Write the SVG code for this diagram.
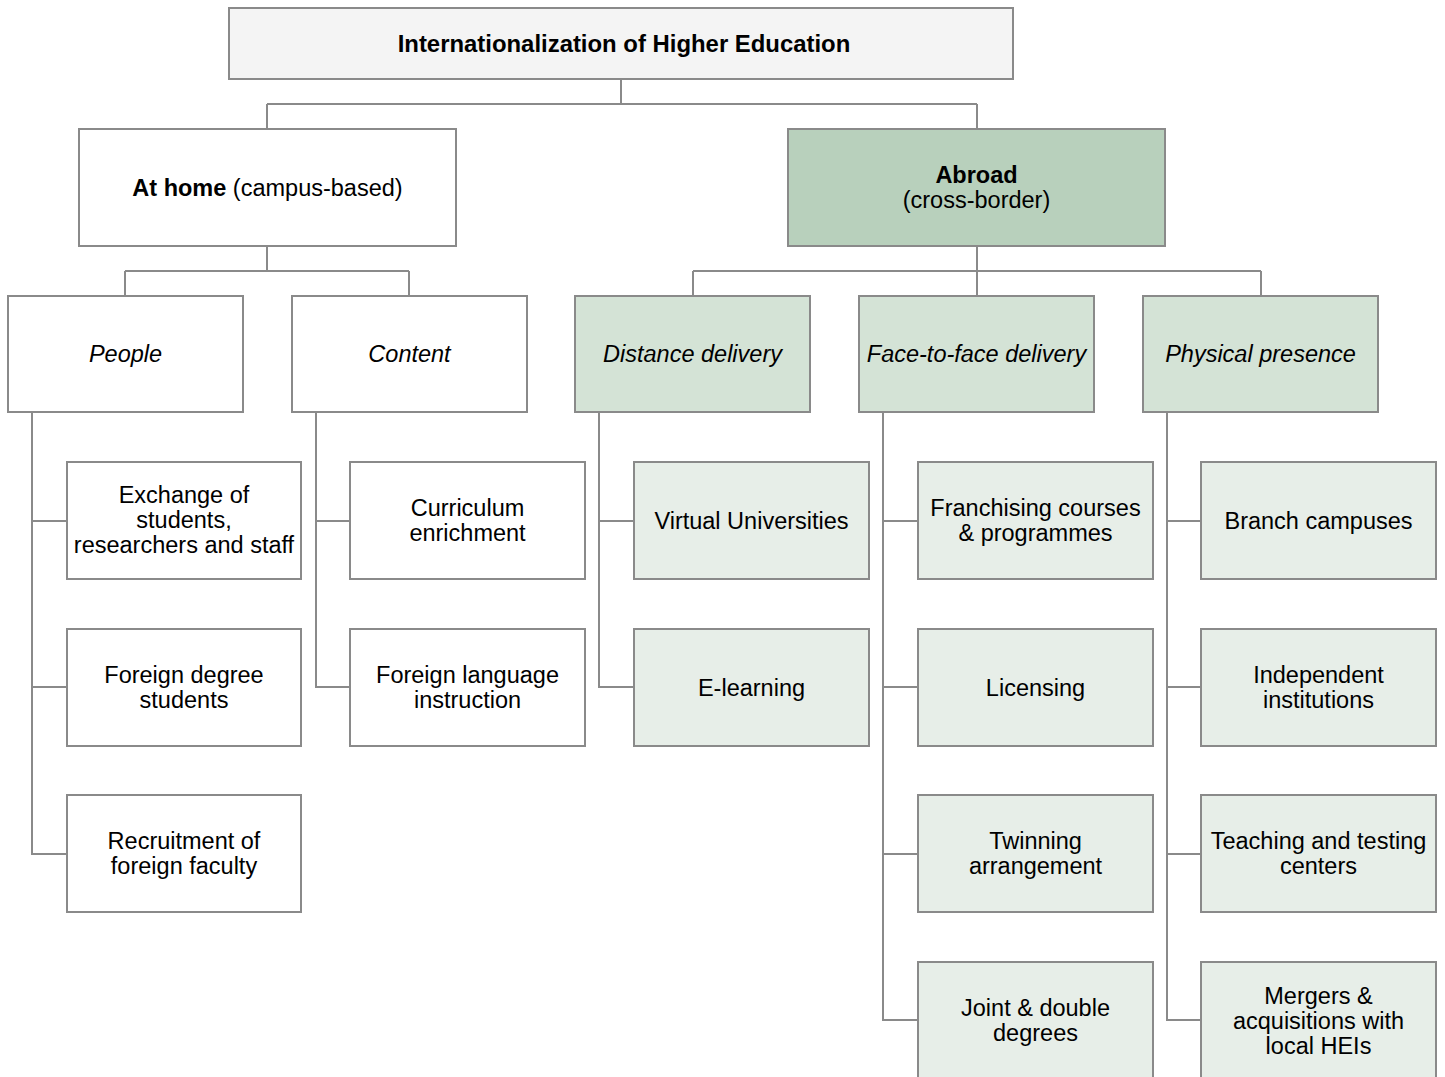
<svg xmlns="http://www.w3.org/2000/svg" width="1445" height="1077" viewBox="0 0 1445 1077">
<style>
rect{stroke:#8a8a8a;stroke-width:2}
.root{fill:#f4f4f4}
.white{fill:#ffffff}
.abroad{fill:#b8d0bc}
.g3{fill:#d4e3d6}
.leaf{fill:#e7eee8}
text{font-family:"Liberation Sans",Arial,Helvetica,sans-serif;font-size:23.5px;fill:#000;text-anchor:middle}
.b{font-weight:bold}
.i{font-style:italic}
.rt{font-size:23.9px}
#connectors path{fill:none;stroke:#8a8a8a;stroke-width:2}
</style>
<rect x="0" y="0" width="1445" height="1077" fill="#ffffff" style="stroke:none"/>
<g id="connectors">
<path d="M621 79 V104 M267 104 H977 M267 104 V129 M977 104 V129"/>
<path d="M267 246 V271 M125 271 H409 M125 271 V296 M409 271 V296"/>
<path d="M977 246 V296 M693 271 H1261 M693 271 V296 M1261 271 V296"/>
<path d="M32 412 V854 H67 M32 521 H67 M32 687 H67"/>
<path d="M316 412 V687 H350 M316 521 H350"/>
<path d="M599 412 V687 H634 M599 521 H634"/>
<path d="M883 412 V1020 H918 M883 521 H918 M883 687 H918 M883 854 H918"/>
<path d="M1167 412 V1020 H1201 M1167 521 H1201 M1167 687 H1201 M1167 854 H1201"/>
</g>
<g id="root"><rect class="root" x="229" y="8" width="784" height="71"/><text class="b rt" x="624" y="52">Internationalization of Higher Education</text></g>
<g id="athome"><rect class="white" x="79" y="129" width="377" height="117"/><text x="267.5" y="196"><tspan class="b">At home</tspan> (campus-based)</text></g>
<g id="abroad"><rect class="abroad" x="788" y="129" width="377" height="117"/><text class="b" x="976.5" y="183">Abroad</text><text x="976.5" y="207.5">(cross-border)</text></g>
<g id="people"><rect class="white" x="8" y="296" width="235" height="116"/><text class="i" x="125.5" y="362">People</text></g>
<g id="content"><rect class="white" x="292" y="296" width="235" height="116"/><text class="i" x="409.5" y="362">Content</text></g>
<g id="distance"><rect class="g3" x="575" y="296" width="235" height="116"/><text class="i" x="692.5" y="362">Distance delivery</text></g>
<g id="face"><rect class="g3" x="859" y="296" width="235" height="116"/><text class="i" x="976.5" y="362">Face-to-face delivery</text></g>
<g id="physical"><rect class="g3" x="1143" y="296" width="235" height="116"/><text class="i" x="1260.5" y="362">Physical presence</text></g>

<g id="exchange"><rect class="white" x="67" y="462" width="234" height="117"/><text x="184" y="503">Exchange of</text><text x="184" y="527.5">students,</text><text x="184" y="553">researchers and staff</text></g>
<g id="foreigndegree"><rect class="white" x="67" y="629" width="234" height="117"/><text x="184" y="683">Foreign degree</text><text x="184" y="707.5">students</text></g>
<g id="recruitment"><rect class="white" x="67" y="795" width="234" height="117"/><text x="184" y="849">Recruitment of</text><text x="184" y="873.5">foreign faculty</text></g>

<g id="curriculum"><rect class="white" x="350" y="462" width="235" height="117"/><text x="467.5" y="516">Curriculum</text><text x="467.5" y="540.5">enrichment</text></g>
<g id="language"><rect class="white" x="350" y="629" width="235" height="117"/><text x="467.5" y="683">Foreign language</text><text x="467.5" y="707.5">instruction</text></g>

<g id="virtual"><rect class="leaf" x="634" y="462" width="235" height="117"/><text x="751.5" y="528.5">Virtual Universities</text></g>
<g id="elearning"><rect class="leaf" x="634" y="629" width="235" height="117"/><text x="751.5" y="695.5">E-learning</text></g>

<g id="franchising"><rect class="leaf" x="918" y="462" width="235" height="117"/><text x="1035.5" y="516">Franchising courses</text><text x="1035.5" y="540.5">&amp; programmes</text></g>
<g id="licensing"><rect class="leaf" x="918" y="629" width="235" height="117"/><text x="1035.5" y="695.5">Licensing</text></g>
<g id="twinning"><rect class="leaf" x="918" y="795" width="235" height="117"/><text x="1035.5" y="849">Twinning</text><text x="1035.5" y="873.5">arrangement</text></g>
<g id="joint"><rect class="leaf" x="918" y="962" width="235" height="117"/><text x="1035.5" y="1016">Joint &amp; double</text><text x="1035.5" y="1040.5">degrees</text></g>

<g id="branch"><rect class="leaf" x="1201" y="462" width="235" height="117"/><text x="1318.5" y="528.5">Branch campuses</text></g>
<g id="independent"><rect class="leaf" x="1201" y="629" width="235" height="117"/><text x="1318.5" y="683">Independent</text><text x="1318.5" y="707.5">institutions</text></g>
<g id="teaching"><rect class="leaf" x="1201" y="795" width="235" height="117"/><text x="1318.5" y="849">Teaching and testing</text><text x="1318.5" y="873.5">centers</text></g>
<g id="mergers"><rect class="leaf" x="1201" y="962" width="235" height="117"/><text x="1318.5" y="1003.5">Mergers &amp;</text><text x="1318.5" y="1028.5">acquisitions with</text><text x="1318.5" y="1053.5">local HEIs</text></g>
</svg>
